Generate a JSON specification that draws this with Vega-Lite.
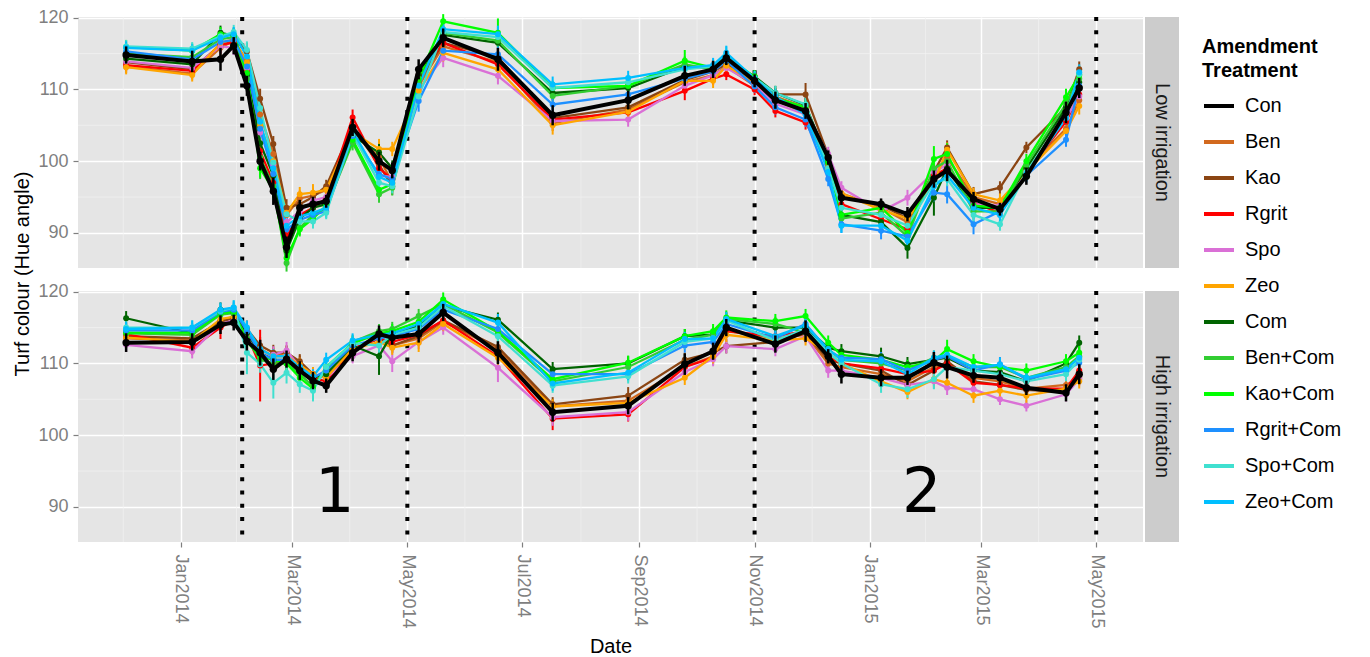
{
"$schema": "https://vega.github.io/schema/vega-lite/v6.json",
"padding": {"left": 12, "top": 8, "right": 5, "bottom": 5},
"bounds": "flush",
"columns": 2,
"spacing": {"row": 23, "column": 2},
"resolve": {"scale": {"color": "shared"}, "legend": {"color": "shared"}},
"config": {
  "font": "Liberation Sans",
  "view": {"stroke": null},
  "axis": {"domain": false, "tickColor": "#7F7F7F", "tickSize": 5, "tickWidth": 1.2, "labelColor": "#7F7F7F", "labelFontSize": 18, "labelPadding": 5, "gridColor": "#FFFFFF", "gridWidth": 1.5, "titleFontWeight": "normal", "titleFontSize": 20, "titleColor": "#000000", "labelFont": "Liberation Sans", "titleFont": "Liberation Sans"},
  "legend": {"orient": "none", "legendX": 1124, "legendY": 20, "padding": 0, "titleFontSize": 20, "titleFontWeight": "bold", "titleColor": "#000000", "titleLineHeight": 24, "titlePadding": 8, "titleFont": "Liberation Sans", "labelFont": "Liberation Sans", "labelFontSize": 20, "labelColor": "#000000", "labelOffset": 9, "symbolType": "stroke", "symbolSize": 900, "symbolStrokeWidth": 4, "rowPadding": 9}
},
"datasets": {
  "minx": [{"d":"2013-12-01T12:00:00Z"},{"d":"2014-01-30T12:00:00Z"},{"d":"2014-03-31T12:00:00Z"},{"d":"2014-05-31T12:00:00Z"},{"d":"2014-08-01T00:00:00Z"},{"d":"2014-10-01T12:00:00Z"},{"d":"2014-12-01T12:00:00Z"},{"d":"2015-01-30T12:00:00Z"},{"d":"2015-03-31T12:00:00Z"}],
  "miny": [{"v":95},{"v":105},{"v":115}],
  "vl": [{"d":"2014-02-02T12:00:00Z"},{"d":"2014-05-01T00:00:00Z"},{"d":"2014-11-01T00:00:00Z"},{"d":"2015-05-01T00:00:00Z"}],
  "lab": [{"d":"2014-03-23T12:00:00Z","v":92.0,"s":"1"},{"d":"2015-01-28T12:00:00Z","v":92.0,"s":"2"}],
  "m": [
{"d":"2013-12-03","i":"Low","t":"Con","v":114.8,"e":1.2},{"d":"2014-01-07","i":"Low","t":"Con","v":113.9,"e":1.5},{"d":"2014-01-22","i":"Low","t":"Con","v":114.2,"e":1.6},{"d":"2014-01-29","i":"Low","t":"Con","v":116.1,"e":1.2},{"d":"2014-02-05","i":"Low","t":"Con","v":110.5,"e":1.4},{"d":"2014-02-12","i":"Low","t":"Con","v":100.0,"e":1.3},{"d":"2014-02-19","i":"Low","t":"Con","v":95.8,"e":1.9},{"d":"2014-02-26","i":"Low","t":"Con","v":88.0,"e":1.5},{"d":"2014-03-05","i":"Low","t":"Con","v":93.5,"e":1.1},{"d":"2014-03-12","i":"Low","t":"Con","v":94.0,"e":1.0},{"d":"2014-03-19","i":"Low","t":"Con","v":94.4,"e":0.9},{"d":"2014-04-02","i":"Low","t":"Con","v":104.7,"e":1.2},{"d":"2014-04-16","i":"Low","t":"Con","v":100.0,"e":1.3},{"d":"2014-04-23","i":"Low","t":"Con","v":98.7,"e":1.1},{"d":"2014-05-07","i":"Low","t":"Con","v":112.8,"e":1.4},{"d":"2014-05-20","i":"Low","t":"Con","v":117.2,"e":1.3},{"d":"2014-06-18","i":"Low","t":"Con","v":114.2,"e":1.6},{"d":"2014-07-17","i":"Low","t":"Con","v":106.4,"e":1.4},{"d":"2014-08-26","i":"Low","t":"Con","v":108.5,"e":1.3},{"d":"2014-09-25","i":"Low","t":"Con","v":111.9,"e":1.4},{"d":"2014-10-10","i":"Low","t":"Con","v":112.8,"e":1.2},{"d":"2014-10-17","i":"Low","t":"Con","v":114.4,"e":1.0},{"d":"2014-11-01","i":"Low","t":"Con","v":111.2,"e":0.9},{"d":"2014-11-12","i":"Low","t":"Con","v":108.5,"e":1.2},{"d":"2014-11-28","i":"Low","t":"Con","v":107.0,"e":1.1},{"d":"2014-12-10","i":"Low","t":"Con","v":100.5,"e":1.0},{"d":"2014-12-17","i":"Low","t":"Con","v":94.9,"e":1.0},{"d":"2015-01-07","i":"Low","t":"Con","v":94.0,"e":0.8},{"d":"2015-01-21","i":"Low","t":"Con","v":92.6,"e":1.0},{"d":"2015-02-04","i":"Low","t":"Con","v":97.5,"e":1.2},{"d":"2015-02-11","i":"Low","t":"Con","v":98.7,"e":1.5},{"d":"2015-02-25","i":"Low","t":"Con","v":94.7,"e":1.0},{"d":"2015-03-11","i":"Low","t":"Con","v":93.3,"e":0.9},{"d":"2015-03-25","i":"Low","t":"Con","v":97.9,"e":1.2},{"d":"2015-04-15","i":"Low","t":"Con","v":106.8,"e":1.5},{"d":"2015-04-22","i":"Low","t":"Con","v":110.2,"e":1.4},
{"d":"2013-12-03","i":"Low","t":"Ben","v":113.2,"e":0.9},{"d":"2014-01-07","i":"Low","t":"Ben","v":112.2,"e":0.8},{"d":"2014-01-22","i":"Low","t":"Ben","v":115.8,"e":1.1},{"d":"2014-01-29","i":"Low","t":"Ben","v":116.8,"e":1.0},{"d":"2014-02-05","i":"Low","t":"Ben","v":114.0,"e":1.4},{"d":"2014-02-12","i":"Low","t":"Ben","v":106.5,"e":1.3},{"d":"2014-02-19","i":"Low","t":"Ben","v":101.0,"e":1.2},{"d":"2014-02-26","i":"Low","t":"Ben","v":92.5,"e":1.0},{"d":"2014-03-05","i":"Low","t":"Ben","v":94.8,"e":1.1},{"d":"2014-03-12","i":"Low","t":"Ben","v":95.2,"e":1.0},{"d":"2014-03-19","i":"Low","t":"Ben","v":96.0,"e":0.8},{"d":"2014-04-02","i":"Low","t":"Ben","v":104.5,"e":1.0},{"d":"2014-04-16","i":"Low","t":"Ben","v":100.5,"e":1.2},{"d":"2014-04-23","i":"Low","t":"Ben","v":97.0,"e":1.0},{"d":"2014-05-07","i":"Low","t":"Ben","v":110.5,"e":1.1},{"d":"2014-05-20","i":"Low","t":"Ben","v":116.0,"e":1.3},{"d":"2014-06-18","i":"Low","t":"Ben","v":113.8,"e":1.2},{"d":"2014-07-17","i":"Low","t":"Ben","v":105.3,"e":1.1},{"d":"2014-08-26","i":"Low","t":"Ben","v":107.2,"e":0.9},{"d":"2014-09-25","i":"Low","t":"Ben","v":111.0,"e":1.0},{"d":"2014-10-10","i":"Low","t":"Ben","v":112.0,"e":0.8},{"d":"2014-10-17","i":"Low","t":"Ben","v":113.2,"e":0.9},{"d":"2014-11-01","i":"Low","t":"Ben","v":110.5,"e":0.8},{"d":"2014-11-12","i":"Low","t":"Ben","v":109.0,"e":1.0},{"d":"2014-11-28","i":"Low","t":"Ben","v":107.5,"e":0.9},{"d":"2014-12-10","i":"Low","t":"Ben","v":99.5,"e":1.0},{"d":"2014-12-17","i":"Low","t":"Ben","v":95.5,"e":0.8},{"d":"2015-01-07","i":"Low","t":"Ben","v":93.5,"e":0.9},{"d":"2015-01-21","i":"Low","t":"Ben","v":91.5,"e":1.0},{"d":"2015-02-04","i":"Low","t":"Ben","v":98.0,"e":1.1},{"d":"2015-02-11","i":"Low","t":"Ben","v":100.5,"e":1.2},{"d":"2015-02-25","i":"Low","t":"Ben","v":95.0,"e":0.9},{"d":"2015-03-11","i":"Low","t":"Ben","v":94.0,"e":0.8},{"d":"2015-03-25","i":"Low","t":"Ben","v":99.0,"e":1.0},{"d":"2015-04-15","i":"Low","t":"Ben","v":104.5,"e":1.2},{"d":"2015-04-22","i":"Low","t":"Ben","v":108.5,"e":1.0},
{"d":"2013-12-03","i":"Low","t":"Kao","v":113.8,"e":1.0},{"d":"2014-01-07","i":"Low","t":"Kao","v":112.8,"e":0.9},{"d":"2014-01-22","i":"Low","t":"Kao","v":116.2,"e":1.0},{"d":"2014-01-29","i":"Low","t":"Kao","v":117.0,"e":1.1},{"d":"2014-02-05","i":"Low","t":"Kao","v":115.3,"e":1.2},{"d":"2014-02-12","i":"Low","t":"Kao","v":108.7,"e":1.4},{"d":"2014-02-19","i":"Low","t":"Kao","v":102.4,"e":1.1},{"d":"2014-02-26","i":"Low","t":"Kao","v":93.5,"e":1.2},{"d":"2014-03-05","i":"Low","t":"Kao","v":94.0,"e":0.9},{"d":"2014-03-12","i":"Low","t":"Kao","v":95.0,"e":1.1},{"d":"2014-03-19","i":"Low","t":"Kao","v":96.5,"e":0.9},{"d":"2014-04-02","i":"Low","t":"Kao","v":104.8,"e":0.9},{"d":"2014-04-16","i":"Low","t":"Kao","v":99.5,"e":1.1},{"d":"2014-04-23","i":"Low","t":"Kao","v":96.5,"e":1.2},{"d":"2014-05-07","i":"Low","t":"Kao","v":111.0,"e":1.0},{"d":"2014-05-20","i":"Low","t":"Kao","v":116.5,"e":1.2},{"d":"2014-06-18","i":"Low","t":"Kao","v":114.5,"e":1.1},{"d":"2014-07-17","i":"Low","t":"Kao","v":106.0,"e":1.0},{"d":"2014-08-26","i":"Low","t":"Kao","v":107.5,"e":1.0},{"d":"2014-09-25","i":"Low","t":"Kao","v":111.3,"e":0.9},{"d":"2014-10-10","i":"Low","t":"Kao","v":112.5,"e":0.9},{"d":"2014-10-17","i":"Low","t":"Kao","v":113.5,"e":0.8},{"d":"2014-11-01","i":"Low","t":"Kao","v":111.0,"e":0.9},{"d":"2014-11-12","i":"Low","t":"Kao","v":109.3,"e":0.9},{"d":"2014-11-28","i":"Low","t":"Kao","v":109.3,"e":1.6},{"d":"2014-12-10","i":"Low","t":"Kao","v":100.8,"e":0.9},{"d":"2014-12-17","i":"Low","t":"Kao","v":95.0,"e":1.0},{"d":"2015-01-07","i":"Low","t":"Kao","v":93.9,"e":0.8},{"d":"2015-01-21","i":"Low","t":"Kao","v":92.0,"e":0.9},{"d":"2015-02-04","i":"Low","t":"Kao","v":98.5,"e":1.0},{"d":"2015-02-11","i":"Low","t":"Kao","v":101.9,"e":1.0},{"d":"2015-02-25","i":"Low","t":"Kao","v":95.4,"e":1.0},{"d":"2015-03-11","i":"Low","t":"Kao","v":96.3,"e":0.9},{"d":"2015-03-25","i":"Low","t":"Kao","v":101.9,"e":0.8},{"d":"2015-04-15","i":"Low","t":"Kao","v":107.5,"e":1.0},{"d":"2015-04-22","i":"Low","t":"Kao","v":112.8,"e":1.1},
{"d":"2013-12-03","i":"Low","t":"Rgrit","v":113.4,"e":0.8},{"d":"2014-01-07","i":"Low","t":"Rgrit","v":112.6,"e":0.9},{"d":"2014-01-22","i":"Low","t":"Rgrit","v":116.3,"e":1.2},{"d":"2014-01-29","i":"Low","t":"Rgrit","v":116.5,"e":0.9},{"d":"2014-02-05","i":"Low","t":"Rgrit","v":112.5,"e":1.3},{"d":"2014-02-12","i":"Low","t":"Rgrit","v":101.4,"e":1.2},{"d":"2014-02-19","i":"Low","t":"Rgrit","v":97.0,"e":1.3},{"d":"2014-02-26","i":"Low","t":"Rgrit","v":89.5,"e":1.1},{"d":"2014-03-05","i":"Low","t":"Rgrit","v":92.5,"e":1.0},{"d":"2014-03-12","i":"Low","t":"Rgrit","v":93.5,"e":0.9},{"d":"2014-03-19","i":"Low","t":"Rgrit","v":94.8,"e":1.0},{"d":"2014-04-02","i":"Low","t":"Rgrit","v":106.1,"e":1.1},{"d":"2014-04-16","i":"Low","t":"Rgrit","v":99.0,"e":1.0},{"d":"2014-04-23","i":"Low","t":"Rgrit","v":97.5,"e":0.9},{"d":"2014-05-07","i":"Low","t":"Rgrit","v":112.0,"e":1.0},{"d":"2014-05-20","i":"Low","t":"Rgrit","v":116.5,"e":1.1},{"d":"2014-06-18","i":"Low","t":"Rgrit","v":113.5,"e":1.0},{"d":"2014-07-17","i":"Low","t":"Rgrit","v":105.8,"e":1.0},{"d":"2014-08-26","i":"Low","t":"Rgrit","v":106.8,"e":1.0},{"d":"2014-09-25","i":"Low","t":"Rgrit","v":109.8,"e":1.3},{"d":"2014-10-10","i":"Low","t":"Rgrit","v":111.5,"e":0.9},{"d":"2014-10-17","i":"Low","t":"Rgrit","v":112.1,"e":0.8},{"d":"2014-11-01","i":"Low","t":"Rgrit","v":110.0,"e":0.8},{"d":"2014-11-12","i":"Low","t":"Rgrit","v":107.0,"e":0.9},{"d":"2014-11-28","i":"Low","t":"Rgrit","v":105.4,"e":1.0},{"d":"2014-12-10","i":"Low","t":"Rgrit","v":99.8,"e":1.1},{"d":"2014-12-17","i":"Low","t":"Rgrit","v":94.0,"e":0.9},{"d":"2015-01-07","i":"Low","t":"Rgrit","v":91.9,"e":1.0},{"d":"2015-01-21","i":"Low","t":"Rgrit","v":90.5,"e":1.0},{"d":"2015-02-04","i":"Low","t":"Rgrit","v":98.0,"e":0.9},{"d":"2015-02-11","i":"Low","t":"Rgrit","v":99.0,"e":1.0},{"d":"2015-02-25","i":"Low","t":"Rgrit","v":94.2,"e":0.8},{"d":"2015-03-11","i":"Low","t":"Rgrit","v":92.8,"e":0.9},{"d":"2015-03-25","i":"Low","t":"Rgrit","v":98.5,"e":0.9},{"d":"2015-04-15","i":"Low","t":"Rgrit","v":105.5,"e":1.0},{"d":"2015-04-22","i":"Low","t":"Rgrit","v":109.3,"e":1.0},
{"d":"2013-12-03","i":"Low","t":"Spo","v":113.9,"e":1.0},{"d":"2014-01-07","i":"Low","t":"Spo","v":113.0,"e":0.9},{"d":"2014-01-22","i":"Low","t":"Spo","v":116.0,"e":1.0},{"d":"2014-01-29","i":"Low","t":"Spo","v":115.8,"e":1.0},{"d":"2014-02-05","i":"Low","t":"Spo","v":113.0,"e":1.2},{"d":"2014-02-12","i":"Low","t":"Spo","v":104.0,"e":1.1},{"d":"2014-02-19","i":"Low","t":"Spo","v":99.5,"e":1.0},{"d":"2014-02-26","i":"Low","t":"Spo","v":91.5,"e":1.1},{"d":"2014-03-05","i":"Low","t":"Spo","v":93.0,"e":1.0},{"d":"2014-03-12","i":"Low","t":"Spo","v":94.5,"e":1.0},{"d":"2014-03-19","i":"Low","t":"Spo","v":95.0,"e":0.9},{"d":"2014-04-02","i":"Low","t":"Spo","v":103.8,"e":1.0},{"d":"2014-04-16","i":"Low","t":"Spo","v":98.0,"e":1.3},{"d":"2014-04-23","i":"Low","t":"Spo","v":97.8,"e":1.1},{"d":"2014-05-07","i":"Low","t":"Spo","v":110.0,"e":1.2},{"d":"2014-05-20","i":"Low","t":"Spo","v":114.4,"e":1.3},{"d":"2014-06-18","i":"Low","t":"Spo","v":111.9,"e":1.2},{"d":"2014-07-17","i":"Low","t":"Spo","v":105.6,"e":1.1},{"d":"2014-08-26","i":"Low","t":"Spo","v":105.8,"e":1.0},{"d":"2014-09-25","i":"Low","t":"Spo","v":110.5,"e":1.0},{"d":"2014-10-10","i":"Low","t":"Spo","v":112.0,"e":0.9},{"d":"2014-10-17","i":"Low","t":"Spo","v":113.0,"e":0.9},{"d":"2014-11-01","i":"Low","t":"Spo","v":110.8,"e":0.9},{"d":"2014-11-12","i":"Low","t":"Spo","v":108.0,"e":1.0},{"d":"2014-11-28","i":"Low","t":"Spo","v":106.5,"e":1.0},{"d":"2014-12-10","i":"Low","t":"Spo","v":101.0,"e":1.0},{"d":"2014-12-17","i":"Low","t":"Spo","v":96.3,"e":0.9},{"d":"2015-01-07","i":"Low","t":"Spo","v":93.0,"e":1.0},{"d":"2015-01-21","i":"Low","t":"Spo","v":94.9,"e":1.1},{"d":"2015-02-04","i":"Low","t":"Spo","v":98.5,"e":0.9},{"d":"2015-02-11","i":"Low","t":"Spo","v":99.5,"e":1.0},{"d":"2015-02-25","i":"Low","t":"Spo","v":94.0,"e":0.9},{"d":"2015-03-11","i":"Low","t":"Spo","v":93.8,"e":0.9},{"d":"2015-03-25","i":"Low","t":"Spo","v":98.5,"e":1.0},{"d":"2015-04-15","i":"Low","t":"Spo","v":106.0,"e":1.1},{"d":"2015-04-22","i":"Low","t":"Spo","v":109.0,"e":1.0},
{"d":"2013-12-03","i":"Low","t":"Zeo","v":113.1,"e":1.0},{"d":"2014-01-07","i":"Low","t":"Zeo","v":112.0,"e":0.9},{"d":"2014-01-22","i":"Low","t":"Zeo","v":116.5,"e":0.9},{"d":"2014-01-29","i":"Low","t":"Zeo","v":117.0,"e":1.0},{"d":"2014-02-05","i":"Low","t":"Zeo","v":113.8,"e":1.2},{"d":"2014-02-12","i":"Low","t":"Zeo","v":105.0,"e":1.2},{"d":"2014-02-19","i":"Low","t":"Zeo","v":100.0,"e":1.1},{"d":"2014-02-26","i":"Low","t":"Zeo","v":92.8,"e":1.0},{"d":"2014-03-05","i":"Low","t":"Zeo","v":95.4,"e":1.0},{"d":"2014-03-12","i":"Low","t":"Zeo","v":95.6,"e":1.2},{"d":"2014-03-19","i":"Low","t":"Zeo","v":96.0,"e":0.9},{"d":"2014-04-02","i":"Low","t":"Zeo","v":104.0,"e":1.0},{"d":"2014-04-16","i":"Low","t":"Zeo","v":101.7,"e":1.4},{"d":"2014-04-23","i":"Low","t":"Zeo","v":101.7,"e":1.0},{"d":"2014-05-07","i":"Low","t":"Zeo","v":109.8,"e":1.1},{"d":"2014-05-20","i":"Low","t":"Zeo","v":115.1,"e":1.2},{"d":"2014-06-18","i":"Low","t":"Zeo","v":112.8,"e":1.3},{"d":"2014-07-17","i":"Low","t":"Zeo","v":105.0,"e":1.3},{"d":"2014-08-26","i":"Low","t":"Zeo","v":106.9,"e":1.1},{"d":"2014-09-25","i":"Low","t":"Zeo","v":111.2,"e":0.9},{"d":"2014-10-10","i":"Low","t":"Zeo","v":111.2,"e":1.0},{"d":"2014-10-17","i":"Low","t":"Zeo","v":113.3,"e":0.9},{"d":"2014-11-01","i":"Low","t":"Zeo","v":111.0,"e":0.8},{"d":"2014-11-12","i":"Low","t":"Zeo","v":108.5,"e":0.9},{"d":"2014-11-28","i":"Low","t":"Zeo","v":106.8,"e":0.9},{"d":"2014-12-10","i":"Low","t":"Zeo","v":99.0,"e":1.0},{"d":"2014-12-17","i":"Low","t":"Zeo","v":95.5,"e":0.9},{"d":"2015-01-07","i":"Low","t":"Zeo","v":93.2,"e":0.9},{"d":"2015-01-21","i":"Low","t":"Zeo","v":92.0,"e":1.0},{"d":"2015-02-04","i":"Low","t":"Zeo","v":97.0,"e":1.0},{"d":"2015-02-11","i":"Low","t":"Zeo","v":101.6,"e":1.0},{"d":"2015-02-25","i":"Low","t":"Zeo","v":95.4,"e":0.9},{"d":"2015-03-11","i":"Low","t":"Zeo","v":94.5,"e":1.0},{"d":"2015-03-25","i":"Low","t":"Zeo","v":98.5,"e":0.9},{"d":"2015-04-15","i":"Low","t":"Zeo","v":104.2,"e":1.2},{"d":"2015-04-22","i":"Low","t":"Zeo","v":107.7,"e":1.2},
{"d":"2013-12-03","i":"Low","t":"Com","v":114.3,"e":0.9},{"d":"2014-01-07","i":"Low","t":"Com","v":113.5,"e":0.9},{"d":"2014-01-22","i":"Low","t":"Com","v":117.9,"e":1.0},{"d":"2014-01-29","i":"Low","t":"Com","v":117.5,"e":1.0},{"d":"2014-02-05","i":"Low","t":"Com","v":112.0,"e":1.3},{"d":"2014-02-12","i":"Low","t":"Com","v":102.5,"e":1.3},{"d":"2014-02-19","i":"Low","t":"Com","v":98.0,"e":1.2},{"d":"2014-02-26","i":"Low","t":"Com","v":87.5,"e":1.1},{"d":"2014-03-05","i":"Low","t":"Com","v":92.0,"e":1.0},{"d":"2014-03-12","i":"Low","t":"Com","v":93.5,"e":1.0},{"d":"2014-03-19","i":"Low","t":"Com","v":94.0,"e":0.9},{"d":"2014-04-02","i":"Low","t":"Com","v":103.5,"e":1.0},{"d":"2014-04-16","i":"Low","t":"Com","v":101.2,"e":1.2},{"d":"2014-04-23","i":"Low","t":"Com","v":99.0,"e":1.1},{"d":"2014-05-07","i":"Low","t":"Com","v":112.0,"e":1.0},{"d":"2014-05-20","i":"Low","t":"Com","v":117.6,"e":1.2},{"d":"2014-06-18","i":"Low","t":"Com","v":116.5,"e":1.0},{"d":"2014-07-17","i":"Low","t":"Com","v":109.5,"e":1.0},{"d":"2014-08-26","i":"Low","t":"Com","v":110.2,"e":1.0},{"d":"2014-09-25","i":"Low","t":"Com","v":113.2,"e":1.3},{"d":"2014-10-10","i":"Low","t":"Com","v":113.0,"e":1.0},{"d":"2014-10-17","i":"Low","t":"Com","v":114.0,"e":0.9},{"d":"2014-11-01","i":"Low","t":"Com","v":111.8,"e":0.9},{"d":"2014-11-12","i":"Low","t":"Com","v":109.5,"e":1.0},{"d":"2014-11-28","i":"Low","t":"Com","v":107.8,"e":1.0},{"d":"2014-12-10","i":"Low","t":"Com","v":100.0,"e":0.9},{"d":"2014-12-17","i":"Low","t":"Com","v":92.5,"e":1.0},{"d":"2015-01-07","i":"Low","t":"Com","v":91.5,"e":1.0},{"d":"2015-01-21","i":"Low","t":"Com","v":87.9,"e":1.5},{"d":"2015-02-04","i":"Low","t":"Com","v":94.9,"e":2.5},{"d":"2015-02-11","i":"Low","t":"Com","v":99.0,"e":1.0},{"d":"2015-02-25","i":"Low","t":"Com","v":93.5,"e":1.0},{"d":"2015-03-11","i":"Low","t":"Com","v":93.5,"e":0.9},{"d":"2015-03-25","i":"Low","t":"Com","v":99.0,"e":1.0},{"d":"2015-04-15","i":"Low","t":"Com","v":107.5,"e":1.1},{"d":"2015-04-22","i":"Low","t":"Com","v":111.0,"e":1.0},
{"d":"2013-12-03","i":"Low","t":"Ben+Com","v":115.0,"e":1.0},{"d":"2014-01-07","i":"Low","t":"Ben+Com","v":114.5,"e":1.0},{"d":"2014-01-22","i":"Low","t":"Ben+Com","v":117.0,"e":1.0},{"d":"2014-01-29","i":"Low","t":"Ben+Com","v":117.3,"e":1.0},{"d":"2014-02-05","i":"Low","t":"Ben+Com","v":111.5,"e":1.4},{"d":"2014-02-12","i":"Low","t":"Ben+Com","v":100.5,"e":3.0},{"d":"2014-02-19","i":"Low","t":"Ben+Com","v":96.5,"e":1.5},{"d":"2014-02-26","i":"Low","t":"Ben+Com","v":85.8,"e":1.2},{"d":"2014-03-05","i":"Low","t":"Ben+Com","v":90.7,"e":1.0},{"d":"2014-03-12","i":"Low","t":"Ben+Com","v":92.5,"e":0.9},{"d":"2014-03-19","i":"Low","t":"Ben+Com","v":93.5,"e":0.9},{"d":"2014-04-02","i":"Low","t":"Ben+Com","v":102.6,"e":1.1},{"d":"2014-04-16","i":"Low","t":"Ben+Com","v":95.4,"e":1.2},{"d":"2014-04-23","i":"Low","t":"Ben+Com","v":96.3,"e":1.1},{"d":"2014-05-07","i":"Low","t":"Ben+Com","v":111.0,"e":1.0},{"d":"2014-05-20","i":"Low","t":"Ben+Com","v":117.9,"e":1.2},{"d":"2014-06-18","i":"Low","t":"Ben+Com","v":116.8,"e":1.1},{"d":"2014-07-17","i":"Low","t":"Ben+Com","v":109.1,"e":1.0},{"d":"2014-08-26","i":"Low","t":"Ben+Com","v":110.5,"e":1.0},{"d":"2014-09-25","i":"Low","t":"Ben+Com","v":113.5,"e":1.1},{"d":"2014-10-10","i":"Low","t":"Ben+Com","v":112.8,"e":1.0},{"d":"2014-10-17","i":"Low","t":"Ben+Com","v":114.2,"e":0.9},{"d":"2014-11-01","i":"Low","t":"Ben+Com","v":111.5,"e":0.9},{"d":"2014-11-12","i":"Low","t":"Ben+Com","v":108.8,"e":1.0},{"d":"2014-11-28","i":"Low","t":"Ben+Com","v":107.0,"e":1.0},{"d":"2014-12-10","i":"Low","t":"Ben+Com","v":100.2,"e":0.9},{"d":"2014-12-17","i":"Low","t":"Ben+Com","v":92.0,"e":1.0},{"d":"2015-01-07","i":"Low","t":"Ben+Com","v":92.8,"e":1.0},{"d":"2015-01-21","i":"Low","t":"Ben+Com","v":89.5,"e":1.0},{"d":"2015-02-04","i":"Low","t":"Ben+Com","v":99.0,"e":1.3},{"d":"2015-02-11","i":"Low","t":"Ben+Com","v":100.0,"e":1.2},{"d":"2015-02-25","i":"Low","t":"Ben+Com","v":93.0,"e":1.0},{"d":"2015-03-11","i":"Low","t":"Ben+Com","v":93.0,"e":0.9},{"d":"2015-03-25","i":"Low","t":"Ben+Com","v":99.5,"e":1.0},{"d":"2015-04-15","i":"Low","t":"Ben+Com","v":108.0,"e":1.1},{"d":"2015-04-22","i":"Low","t":"Ben+Com","v":111.5,"e":1.1},
{"d":"2013-12-03","i":"Low","t":"Kao+Com","v":115.9,"e":1.0},{"d":"2014-01-07","i":"Low","t":"Kao+Com","v":115.4,"e":1.0},{"d":"2014-01-22","i":"Low","t":"Kao+Com","v":117.7,"e":1.0},{"d":"2014-01-29","i":"Low","t":"Kao+Com","v":117.6,"e":1.0},{"d":"2014-02-05","i":"Low","t":"Kao+Com","v":112.3,"e":1.3},{"d":"2014-02-12","i":"Low","t":"Kao+Com","v":99.0,"e":1.3},{"d":"2014-02-19","i":"Low","t":"Kao+Com","v":96.0,"e":1.2},{"d":"2014-02-26","i":"Low","t":"Kao+Com","v":86.5,"e":1.2},{"d":"2014-03-05","i":"Low","t":"Kao+Com","v":90.5,"e":1.0},{"d":"2014-03-12","i":"Low","t":"Kao+Com","v":92.0,"e":1.0},{"d":"2014-03-19","i":"Low","t":"Kao+Com","v":93.8,"e":0.9},{"d":"2014-04-02","i":"Low","t":"Kao+Com","v":103.0,"e":1.0},{"d":"2014-04-16","i":"Low","t":"Kao+Com","v":96.0,"e":1.1},{"d":"2014-04-23","i":"Low","t":"Kao+Com","v":96.8,"e":1.1},{"d":"2014-05-07","i":"Low","t":"Kao+Com","v":111.5,"e":1.1},{"d":"2014-05-20","i":"Low","t":"Kao+Com","v":119.5,"e":1.0},{"d":"2014-06-18","i":"Low","t":"Kao+Com","v":117.9,"e":2.0},{"d":"2014-07-17","i":"Low","t":"Kao+Com","v":110.2,"e":1.0},{"d":"2014-08-26","i":"Low","t":"Kao+Com","v":110.5,"e":1.0},{"d":"2014-09-25","i":"Low","t":"Kao+Com","v":114.0,"e":1.5},{"d":"2014-10-10","i":"Low","t":"Kao+Com","v":113.0,"e":1.0},{"d":"2014-10-17","i":"Low","t":"Kao+Com","v":114.5,"e":1.0},{"d":"2014-11-01","i":"Low","t":"Kao+Com","v":111.8,"e":0.9},{"d":"2014-11-12","i":"Low","t":"Kao+Com","v":108.8,"e":1.0},{"d":"2014-11-28","i":"Low","t":"Kao+Com","v":107.5,"e":1.0},{"d":"2014-12-10","i":"Low","t":"Kao+Com","v":99.8,"e":1.0},{"d":"2014-12-17","i":"Low","t":"Kao+Com","v":92.5,"e":1.0},{"d":"2015-01-07","i":"Low","t":"Kao+Com","v":93.5,"e":1.0},{"d":"2015-01-21","i":"Low","t":"Kao+Com","v":90.0,"e":1.0},{"d":"2015-02-04","i":"Low","t":"Kao+Com","v":100.3,"e":1.8},{"d":"2015-02-11","i":"Low","t":"Kao+Com","v":101.0,"e":1.5},{"d":"2015-02-25","i":"Low","t":"Kao+Com","v":93.8,"e":1.0},{"d":"2015-03-11","i":"Low","t":"Kao+Com","v":93.5,"e":0.9},{"d":"2015-03-25","i":"Low","t":"Kao+Com","v":100.0,"e":1.0},{"d":"2015-04-15","i":"Low","t":"Kao+Com","v":108.9,"e":1.2},{"d":"2015-04-22","i":"Low","t":"Kao+Com","v":112.0,"e":1.2},
{"d":"2013-12-03","i":"Low","t":"Rgrit+Com","v":115.3,"e":1.0},{"d":"2014-01-07","i":"Low","t":"Rgrit+Com","v":114.2,"e":1.0},{"d":"2014-01-22","i":"Low","t":"Rgrit+Com","v":116.6,"e":1.0},{"d":"2014-01-29","i":"Low","t":"Rgrit+Com","v":116.9,"e":1.0},{"d":"2014-02-05","i":"Low","t":"Rgrit+Com","v":113.2,"e":1.3},{"d":"2014-02-12","i":"Low","t":"Rgrit+Com","v":104.5,"e":1.2},{"d":"2014-02-19","i":"Low","t":"Rgrit+Com","v":98.2,"e":1.2},{"d":"2014-02-26","i":"Low","t":"Rgrit+Com","v":90.5,"e":1.1},{"d":"2014-03-05","i":"Low","t":"Rgrit+Com","v":91.8,"e":1.0},{"d":"2014-03-12","i":"Low","t":"Rgrit+Com","v":92.5,"e":1.0},{"d":"2014-03-19","i":"Low","t":"Rgrit+Com","v":93.0,"e":0.9},{"d":"2014-04-02","i":"Low","t":"Rgrit+Com","v":103.5,"e":1.0},{"d":"2014-04-16","i":"Low","t":"Rgrit+Com","v":98.2,"e":1.1},{"d":"2014-04-23","i":"Low","t":"Rgrit+Com","v":97.5,"e":1.1},{"d":"2014-05-07","i":"Low","t":"Rgrit+Com","v":108.4,"e":1.5},{"d":"2014-05-20","i":"Low","t":"Rgrit+Com","v":115.4,"e":1.0},{"d":"2014-06-18","i":"Low","t":"Rgrit+Com","v":114.9,"e":1.1},{"d":"2014-07-17","i":"Low","t":"Rgrit+Com","v":107.9,"e":1.0},{"d":"2014-08-26","i":"Low","t":"Rgrit+Com","v":109.3,"e":1.0},{"d":"2014-09-25","i":"Low","t":"Rgrit+Com","v":111.5,"e":1.0},{"d":"2014-10-10","i":"Low","t":"Rgrit+Com","v":112.5,"e":1.0},{"d":"2014-10-17","i":"Low","t":"Rgrit+Com","v":114.0,"e":1.2},{"d":"2014-11-01","i":"Low","t":"Rgrit+Com","v":110.4,"e":0.9},{"d":"2014-11-12","i":"Low","t":"Rgrit+Com","v":107.5,"e":1.0},{"d":"2014-11-28","i":"Low","t":"Rgrit+Com","v":105.8,"e":1.0},{"d":"2014-12-10","i":"Low","t":"Rgrit+Com","v":97.5,"e":1.0},{"d":"2014-12-17","i":"Low","t":"Rgrit+Com","v":91.2,"e":1.2},{"d":"2015-01-07","i":"Low","t":"Rgrit+Com","v":90.3,"e":1.2},{"d":"2015-01-21","i":"Low","t":"Rgrit+Com","v":89.5,"e":1.0},{"d":"2015-02-04","i":"Low","t":"Rgrit+Com","v":95.6,"e":1.2},{"d":"2015-02-11","i":"Low","t":"Rgrit+Com","v":95.4,"e":1.3},{"d":"2015-02-25","i":"Low","t":"Rgrit+Com","v":91.2,"e":1.4},{"d":"2015-03-11","i":"Low","t":"Rgrit+Com","v":93.0,"e":1.0},{"d":"2015-03-25","i":"Low","t":"Rgrit+Com","v":98.0,"e":1.0},{"d":"2015-04-15","i":"Low","t":"Rgrit+Com","v":103.0,"e":1.0},{"d":"2015-04-22","i":"Low","t":"Rgrit+Com","v":110.5,"e":1.2},
{"d":"2013-12-03","i":"Low","t":"Spo+Com","v":116.0,"e":0.9},{"d":"2014-01-07","i":"Low","t":"Spo+Com","v":115.7,"e":0.9},{"d":"2014-01-22","i":"Low","t":"Spo+Com","v":117.4,"e":1.0},{"d":"2014-01-29","i":"Low","t":"Spo+Com","v":118.0,"e":1.0},{"d":"2014-02-05","i":"Low","t":"Spo+Com","v":115.5,"e":1.2},{"d":"2014-02-12","i":"Low","t":"Spo+Com","v":107.4,"e":1.3},{"d":"2014-02-19","i":"Low","t":"Spo+Com","v":99.8,"e":1.2},{"d":"2014-02-26","i":"Low","t":"Spo+Com","v":92.6,"e":1.1},{"d":"2014-03-05","i":"Low","t":"Spo+Com","v":91.6,"e":1.0},{"d":"2014-03-12","i":"Low","t":"Spo+Com","v":91.6,"e":1.0},{"d":"2014-03-19","i":"Low","t":"Spo+Com","v":92.8,"e":0.9},{"d":"2014-04-02","i":"Low","t":"Spo+Com","v":103.8,"e":1.0},{"d":"2014-04-16","i":"Low","t":"Spo+Com","v":97.0,"e":1.1},{"d":"2014-04-23","i":"Low","t":"Spo+Com","v":96.5,"e":1.0},{"d":"2014-05-07","i":"Low","t":"Spo+Com","v":109.0,"e":1.1},{"d":"2014-05-20","i":"Low","t":"Spo+Com","v":118.0,"e":1.1},{"d":"2014-06-18","i":"Low","t":"Spo+Com","v":117.3,"e":1.2},{"d":"2014-07-17","i":"Low","t":"Spo+Com","v":110.2,"e":1.0},{"d":"2014-08-26","i":"Low","t":"Spo+Com","v":111.0,"e":1.0},{"d":"2014-09-25","i":"Low","t":"Spo+Com","v":112.8,"e":1.0},{"d":"2014-10-10","i":"Low","t":"Spo+Com","v":113.2,"e":1.0},{"d":"2014-10-17","i":"Low","t":"Spo+Com","v":114.8,"e":1.2},{"d":"2014-11-01","i":"Low","t":"Spo+Com","v":111.6,"e":1.0},{"d":"2014-11-12","i":"Low","t":"Spo+Com","v":109.5,"e":1.0},{"d":"2014-11-28","i":"Low","t":"Spo+Com","v":107.9,"e":1.0},{"d":"2014-12-10","i":"Low","t":"Spo+Com","v":99.0,"e":1.0},{"d":"2014-12-17","i":"Low","t":"Spo+Com","v":93.5,"e":1.0},{"d":"2015-01-07","i":"Low","t":"Spo+Com","v":92.5,"e":1.0},{"d":"2015-01-21","i":"Low","t":"Spo+Com","v":91.0,"e":1.0},{"d":"2015-02-04","i":"Low","t":"Spo+Com","v":97.0,"e":1.0},{"d":"2015-02-11","i":"Low","t":"Spo+Com","v":97.5,"e":1.0},{"d":"2015-02-25","i":"Low","t":"Spo+Com","v":92.5,"e":1.0},{"d":"2015-03-11","i":"Low","t":"Spo+Com","v":91.2,"e":0.9},{"d":"2015-03-25","i":"Low","t":"Spo+Com","v":98.5,"e":1.0},{"d":"2015-04-15","i":"Low","t":"Spo+Com","v":106.5,"e":1.0},{"d":"2015-04-22","i":"Low","t":"Spo+Com","v":112.1,"e":1.1},
{"d":"2013-12-03","i":"Low","t":"Zeo+Com","v":115.8,"e":0.9},{"d":"2014-01-07","i":"Low","t":"Zeo+Com","v":115.4,"e":0.9},{"d":"2014-01-22","i":"Low","t":"Zeo+Com","v":117.2,"e":1.0},{"d":"2014-01-29","i":"Low","t":"Zeo+Com","v":117.7,"e":1.0},{"d":"2014-02-05","i":"Low","t":"Zeo+Com","v":114.6,"e":1.2},{"d":"2014-02-12","i":"Low","t":"Zeo+Com","v":105.5,"e":1.3},{"d":"2014-02-19","i":"Low","t":"Zeo+Com","v":99.0,"e":1.2},{"d":"2014-02-26","i":"Low","t":"Zeo+Com","v":91.0,"e":1.1},{"d":"2014-03-05","i":"Low","t":"Zeo+Com","v":92.3,"e":1.0},{"d":"2014-03-12","i":"Low","t":"Zeo+Com","v":92.8,"e":1.0},{"d":"2014-03-19","i":"Low","t":"Zeo+Com","v":93.5,"e":1.0},{"d":"2014-04-02","i":"Low","t":"Zeo+Com","v":104.2,"e":1.0},{"d":"2014-04-16","i":"Low","t":"Zeo+Com","v":97.8,"e":1.1},{"d":"2014-04-23","i":"Low","t":"Zeo+Com","v":97.0,"e":1.0},{"d":"2014-05-07","i":"Low","t":"Zeo+Com","v":110.5,"e":1.0},{"d":"2014-05-20","i":"Low","t":"Zeo+Com","v":118.4,"e":1.1},{"d":"2014-06-18","i":"Low","t":"Zeo+Com","v":117.7,"e":1.2},{"d":"2014-07-17","i":"Low","t":"Zeo+Com","v":110.7,"e":1.1},{"d":"2014-08-26","i":"Low","t":"Zeo+Com","v":111.6,"e":1.0},{"d":"2014-09-25","i":"Low","t":"Zeo+Com","v":113.0,"e":1.0},{"d":"2014-10-10","i":"Low","t":"Zeo+Com","v":113.4,"e":1.0},{"d":"2014-10-17","i":"Low","t":"Zeo+Com","v":115.1,"e":1.0},{"d":"2014-11-01","i":"Low","t":"Zeo+Com","v":111.5,"e":1.0},{"d":"2014-11-12","i":"Low","t":"Zeo+Com","v":109.0,"e":1.0},{"d":"2014-11-28","i":"Low","t":"Zeo+Com","v":106.5,"e":1.0},{"d":"2014-12-10","i":"Low","t":"Zeo+Com","v":98.5,"e":1.0},{"d":"2014-12-17","i":"Low","t":"Zeo+Com","v":91.0,"e":1.0},{"d":"2015-01-07","i":"Low","t":"Zeo+Com","v":91.0,"e":1.0},{"d":"2015-01-21","i":"Low","t":"Zeo+Com","v":88.9,"e":1.0},{"d":"2015-02-04","i":"Low","t":"Zeo+Com","v":96.5,"e":1.0},{"d":"2015-02-11","i":"Low","t":"Zeo+Com","v":98.0,"e":1.0},{"d":"2015-02-25","i":"Low","t":"Zeo+Com","v":93.5,"e":1.0},{"d":"2015-03-11","i":"Low","t":"Zeo+Com","v":92.5,"e":0.9},{"d":"2015-03-25","i":"Low","t":"Zeo+Com","v":98.2,"e":1.0},{"d":"2015-04-15","i":"Low","t":"Zeo+Com","v":106.0,"e":1.0},{"d":"2015-04-22","i":"Low","t":"Zeo+Com","v":112.4,"e":1.1},
{"d":"2013-12-03","i":"High","t":"Con","v":112.9,"e":1.3},{"d":"2014-01-07","i":"High","t":"Con","v":113.0,"e":1.2},{"d":"2014-01-22","i":"High","t":"Con","v":115.4,"e":1.3},{"d":"2014-01-29","i":"High","t":"Con","v":115.7,"e":1.1},{"d":"2014-02-05","i":"High","t":"Con","v":113.1,"e":1.3},{"d":"2014-02-12","i":"High","t":"Con","v":111.5,"e":1.8},{"d":"2014-02-19","i":"High","t":"Con","v":109.2,"e":1.5},{"d":"2014-02-26","i":"High","t":"Con","v":110.6,"e":1.2},{"d":"2014-03-05","i":"High","t":"Con","v":109.0,"e":1.3},{"d":"2014-03-12","i":"High","t":"Con","v":107.6,"e":1.2},{"d":"2014-03-19","i":"High","t":"Con","v":106.9,"e":1.0},{"d":"2014-04-02","i":"High","t":"Con","v":111.5,"e":1.2},{"d":"2014-04-16","i":"High","t":"Con","v":114.1,"e":1.2},{"d":"2014-04-23","i":"High","t":"Con","v":113.6,"e":1.0},{"d":"2014-05-07","i":"High","t":"Con","v":114.1,"e":1.2},{"d":"2014-05-20","i":"High","t":"Con","v":117.1,"e":1.2},{"d":"2014-06-18","i":"High","t":"Con","v":111.5,"e":1.6},{"d":"2014-07-17","i":"High","t":"Con","v":103.2,"e":1.3},{"d":"2014-08-26","i":"High","t":"Con","v":104.1,"e":1.2},{"d":"2014-09-25","i":"High","t":"Con","v":109.9,"e":1.5},{"d":"2014-10-10","i":"High","t":"Con","v":111.7,"e":1.2},{"d":"2014-10-17","i":"High","t":"Con","v":115.0,"e":1.2},{"d":"2014-11-12","i":"High","t":"Con","v":112.7,"e":1.2},{"d":"2014-11-28","i":"High","t":"Con","v":114.5,"e":1.5},{"d":"2014-12-10","i":"High","t":"Con","v":111.0,"e":1.0},{"d":"2014-12-17","i":"High","t":"Con","v":108.5,"e":1.3},{"d":"2015-01-07","i":"High","t":"Con","v":108.0,"e":1.2},{"d":"2015-01-21","i":"High","t":"Con","v":108.0,"e":1.0},{"d":"2015-02-04","i":"High","t":"Con","v":110.1,"e":1.5},{"d":"2015-02-11","i":"High","t":"Con","v":109.5,"e":1.6},{"d":"2015-02-25","i":"High","t":"Con","v":108.3,"e":1.0},{"d":"2015-03-11","i":"High","t":"Con","v":108.0,"e":1.0},{"d":"2015-03-25","i":"High","t":"Con","v":106.6,"e":1.0},{"d":"2015-04-15","i":"High","t":"Con","v":105.9,"e":1.2},{"d":"2015-04-22","i":"High","t":"Con","v":108.5,"e":1.4},
{"d":"2013-12-03","i":"High","t":"Ben","v":113.5,"e":1.0},{"d":"2014-01-07","i":"High","t":"Ben","v":113.2,"e":0.9},{"d":"2014-01-22","i":"High","t":"Ben","v":116.0,"e":1.0},{"d":"2014-01-29","i":"High","t":"Ben","v":116.5,"e":1.0},{"d":"2014-02-05","i":"High","t":"Ben","v":114.8,"e":1.2},{"d":"2014-02-12","i":"High","t":"Ben","v":112.0,"e":1.3},{"d":"2014-02-19","i":"High","t":"Ben","v":111.0,"e":1.2},{"d":"2014-02-26","i":"High","t":"Ben","v":111.5,"e":1.0},{"d":"2014-03-05","i":"High","t":"Ben","v":110.0,"e":1.1},{"d":"2014-03-12","i":"High","t":"Ben","v":108.5,"e":1.0},{"d":"2014-03-19","i":"High","t":"Ben","v":108.0,"e":0.9},{"d":"2014-04-02","i":"High","t":"Ben","v":112.0,"e":1.0},{"d":"2014-04-16","i":"High","t":"Ben","v":113.5,"e":1.0},{"d":"2014-04-23","i":"High","t":"Ben","v":112.5,"e":1.0},{"d":"2014-05-07","i":"High","t":"Ben","v":113.5,"e":1.0},{"d":"2014-05-20","i":"High","t":"Ben","v":115.8,"e":1.1},{"d":"2014-06-18","i":"High","t":"Ben","v":112.0,"e":1.1},{"d":"2014-07-17","i":"High","t":"Ben","v":104.0,"e":1.0},{"d":"2014-08-26","i":"High","t":"Ben","v":104.8,"e":1.0},{"d":"2014-09-25","i":"High","t":"Ben","v":109.5,"e":1.0},{"d":"2014-10-10","i":"High","t":"Ben","v":111.0,"e":0.9},{"d":"2014-10-17","i":"High","t":"Ben","v":114.5,"e":0.9},{"d":"2014-11-12","i":"High","t":"Ben","v":113.5,"e":1.0},{"d":"2014-11-28","i":"High","t":"Ben","v":114.0,"e":1.0},{"d":"2014-12-10","i":"High","t":"Ben","v":110.0,"e":1.0},{"d":"2014-12-17","i":"High","t":"Ben","v":109.5,"e":1.0},{"d":"2015-01-07","i":"High","t":"Ben","v":108.5,"e":0.9},{"d":"2015-01-21","i":"High","t":"Ben","v":107.5,"e":1.0},{"d":"2015-02-04","i":"High","t":"Ben","v":109.5,"e":1.0},{"d":"2015-02-11","i":"High","t":"Ben","v":110.0,"e":1.0},{"d":"2015-02-25","i":"High","t":"Ben","v":108.0,"e":0.9},{"d":"2015-03-11","i":"High","t":"Ben","v":107.5,"e":0.9},{"d":"2015-03-25","i":"High","t":"Ben","v":106.5,"e":1.0},{"d":"2015-04-15","i":"High","t":"Ben","v":107.0,"e":1.0},{"d":"2015-04-22","i":"High","t":"Ben","v":108.0,"e":1.0},
{"d":"2013-12-03","i":"High","t":"Kao","v":113.8,"e":1.0},{"d":"2014-01-07","i":"High","t":"Kao","v":113.5,"e":1.0},{"d":"2014-01-22","i":"High","t":"Kao","v":115.8,"e":1.0},{"d":"2014-01-29","i":"High","t":"Kao","v":116.3,"e":1.0},{"d":"2014-02-05","i":"High","t":"Kao","v":114.8,"e":1.1},{"d":"2014-02-12","i":"High","t":"Kao","v":112.5,"e":1.2},{"d":"2014-02-19","i":"High","t":"Kao","v":111.5,"e":1.1},{"d":"2014-02-26","i":"High","t":"Kao","v":111.5,"e":1.0},{"d":"2014-03-05","i":"High","t":"Kao","v":110.3,"e":1.0},{"d":"2014-03-12","i":"High","t":"Kao","v":108.5,"e":1.0},{"d":"2014-03-19","i":"High","t":"Kao","v":108.0,"e":1.0},{"d":"2014-04-02","i":"High","t":"Kao","v":112.0,"e":1.0},{"d":"2014-04-16","i":"High","t":"Kao","v":113.5,"e":1.0},{"d":"2014-04-23","i":"High","t":"Kao","v":112.5,"e":1.0},{"d":"2014-05-07","i":"High","t":"Kao","v":113.8,"e":1.0},{"d":"2014-05-20","i":"High","t":"Kao","v":116.0,"e":1.0},{"d":"2014-06-18","i":"High","t":"Kao","v":112.3,"e":1.1},{"d":"2014-07-17","i":"High","t":"Kao","v":104.3,"e":1.0},{"d":"2014-08-26","i":"High","t":"Kao","v":105.5,"e":1.2},{"d":"2014-09-25","i":"High","t":"Kao","v":110.5,"e":1.0},{"d":"2014-10-10","i":"High","t":"Kao","v":111.5,"e":1.0},{"d":"2014-10-17","i":"High","t":"Kao","v":112.4,"e":1.0},{"d":"2014-11-12","i":"High","t":"Kao","v":113.0,"e":1.0},{"d":"2014-11-28","i":"High","t":"Kao","v":114.2,"e":1.0},{"d":"2014-12-10","i":"High","t":"Kao","v":110.5,"e":1.0},{"d":"2014-12-17","i":"High","t":"Kao","v":110.0,"e":1.0},{"d":"2015-01-07","i":"High","t":"Kao","v":109.0,"e":1.0},{"d":"2015-01-21","i":"High","t":"Kao","v":107.0,"e":1.0},{"d":"2015-02-04","i":"High","t":"Kao","v":109.0,"e":1.0},{"d":"2015-02-11","i":"High","t":"Kao","v":110.3,"e":1.0},{"d":"2015-02-25","i":"High","t":"Kao","v":107.5,"e":1.0},{"d":"2015-03-11","i":"High","t":"Kao","v":107.0,"e":1.0},{"d":"2015-03-25","i":"High","t":"Kao","v":106.3,"e":1.0},{"d":"2015-04-15","i":"High","t":"Kao","v":106.0,"e":1.0},{"d":"2015-04-22","i":"High","t":"Kao","v":108.8,"e":1.0},
{"d":"2013-12-03","i":"High","t":"Rgrit","v":114.1,"e":1.0},{"d":"2014-01-07","i":"High","t":"Rgrit","v":112.2,"e":1.0},{"d":"2014-01-22","i":"High","t":"Rgrit","v":115.0,"e":1.6},{"d":"2014-01-29","i":"High","t":"Rgrit","v":116.0,"e":1.0},{"d":"2014-02-05","i":"High","t":"Rgrit","v":114.0,"e":1.2},{"d":"2014-02-12","i":"High","t":"Rgrit","v":109.7,"e":5.0},{"d":"2014-02-19","i":"High","t":"Rgrit","v":110.0,"e":1.2},{"d":"2014-02-26","i":"High","t":"Rgrit","v":110.5,"e":1.0},{"d":"2014-03-05","i":"High","t":"Rgrit","v":109.5,"e":1.0},{"d":"2014-03-12","i":"High","t":"Rgrit","v":108.0,"e":1.0},{"d":"2014-03-19","i":"High","t":"Rgrit","v":107.5,"e":1.2},{"d":"2014-04-02","i":"High","t":"Rgrit","v":112.0,"e":1.0},{"d":"2014-04-16","i":"High","t":"Rgrit","v":113.5,"e":1.0},{"d":"2014-04-23","i":"High","t":"Rgrit","v":113.0,"e":1.0},{"d":"2014-05-07","i":"High","t":"Rgrit","v":114.0,"e":1.0},{"d":"2014-05-20","i":"High","t":"Rgrit","v":116.0,"e":1.0},{"d":"2014-06-18","i":"High","t":"Rgrit","v":111.0,"e":1.0},{"d":"2014-07-17","i":"High","t":"Rgrit","v":102.3,"e":1.6},{"d":"2014-08-26","i":"High","t":"Rgrit","v":102.9,"e":1.0},{"d":"2014-09-25","i":"High","t":"Rgrit","v":109.5,"e":1.0},{"d":"2014-10-10","i":"High","t":"Rgrit","v":110.8,"e":1.0},{"d":"2014-10-17","i":"High","t":"Rgrit","v":114.5,"e":1.0},{"d":"2014-11-12","i":"High","t":"Rgrit","v":113.8,"e":1.0},{"d":"2014-11-28","i":"High","t":"Rgrit","v":114.5,"e":1.0},{"d":"2014-12-10","i":"High","t":"Rgrit","v":111.0,"e":1.0},{"d":"2014-12-17","i":"High","t":"Rgrit","v":110.0,"e":1.0},{"d":"2015-01-07","i":"High","t":"Rgrit","v":109.3,"e":1.0},{"d":"2015-01-21","i":"High","t":"Rgrit","v":108.5,"e":1.0},{"d":"2015-02-04","i":"High","t":"Rgrit","v":109.0,"e":1.0},{"d":"2015-02-11","i":"High","t":"Rgrit","v":110.0,"e":1.0},{"d":"2015-02-25","i":"High","t":"Rgrit","v":107.3,"e":1.0},{"d":"2015-03-11","i":"High","t":"Rgrit","v":107.0,"e":1.0},{"d":"2015-03-25","i":"High","t":"Rgrit","v":106.5,"e":1.0},{"d":"2015-04-15","i":"High","t":"Rgrit","v":106.5,"e":1.0},{"d":"2015-04-22","i":"High","t":"Rgrit","v":109.0,"e":1.0},
{"d":"2013-12-03","i":"High","t":"Spo","v":112.6,"e":1.0},{"d":"2014-01-07","i":"High","t":"Spo","v":111.7,"e":1.0},{"d":"2014-01-22","i":"High","t":"Spo","v":115.5,"e":1.0},{"d":"2014-01-29","i":"High","t":"Spo","v":116.0,"e":1.0},{"d":"2014-02-05","i":"High","t":"Spo","v":114.0,"e":1.2},{"d":"2014-02-12","i":"High","t":"Spo","v":111.0,"e":1.2},{"d":"2014-02-19","i":"High","t":"Spo","v":111.2,"e":1.2},{"d":"2014-02-26","i":"High","t":"Spo","v":111.8,"e":1.2},{"d":"2014-03-05","i":"High","t":"Spo","v":109.5,"e":1.0},{"d":"2014-03-12","i":"High","t":"Spo","v":108.3,"e":1.0},{"d":"2014-03-19","i":"High","t":"Spo","v":108.0,"e":1.0},{"d":"2014-04-02","i":"High","t":"Spo","v":111.0,"e":1.0},{"d":"2014-04-16","i":"High","t":"Spo","v":112.5,"e":1.0},{"d":"2014-04-23","i":"High","t":"Spo","v":110.3,"e":1.5},{"d":"2014-05-07","i":"High","t":"Spo","v":113.0,"e":1.0},{"d":"2014-05-20","i":"High","t":"Spo","v":115.0,"e":1.0},{"d":"2014-06-18","i":"High","t":"Spo","v":109.4,"e":2.0},{"d":"2014-07-17","i":"High","t":"Spo","v":102.5,"e":1.2},{"d":"2014-08-26","i":"High","t":"Spo","v":103.2,"e":1.2},{"d":"2014-09-25","i":"High","t":"Spo","v":108.8,"e":1.0},{"d":"2014-10-10","i":"High","t":"Spo","v":110.6,"e":1.0},{"d":"2014-10-17","i":"High","t":"Spo","v":112.4,"e":1.0},{"d":"2014-11-12","i":"High","t":"Spo","v":112.0,"e":1.0},{"d":"2014-11-28","i":"High","t":"Spo","v":113.8,"e":1.0},{"d":"2014-12-10","i":"High","t":"Spo","v":109.0,"e":1.0},{"d":"2014-12-17","i":"High","t":"Spo","v":109.0,"e":1.0},{"d":"2015-01-07","i":"High","t":"Spo","v":108.0,"e":1.0},{"d":"2015-01-21","i":"High","t":"Spo","v":107.0,"e":1.0},{"d":"2015-02-04","i":"High","t":"Spo","v":107.5,"e":1.0},{"d":"2015-02-11","i":"High","t":"Spo","v":106.6,"e":1.0},{"d":"2015-02-25","i":"High","t":"Spo","v":106.4,"e":1.0},{"d":"2015-03-11","i":"High","t":"Spo","v":105.0,"e":0.8},{"d":"2015-03-25","i":"High","t":"Spo","v":104.1,"e":0.8},{"d":"2015-04-15","i":"High","t":"Spo","v":105.7,"e":1.0},{"d":"2015-04-22","i":"High","t":"Spo","v":107.8,"e":1.0},
{"d":"2013-12-03","i":"High","t":"Zeo","v":113.6,"e":1.0},{"d":"2014-01-07","i":"High","t":"Zeo","v":113.0,"e":1.0},{"d":"2014-01-22","i":"High","t":"Zeo","v":116.2,"e":1.0},{"d":"2014-01-29","i":"High","t":"Zeo","v":116.5,"e":1.0},{"d":"2014-02-05","i":"High","t":"Zeo","v":114.5,"e":1.0},{"d":"2014-02-12","i":"High","t":"Zeo","v":112.0,"e":1.0},{"d":"2014-02-19","i":"High","t":"Zeo","v":111.0,"e":1.0},{"d":"2014-02-26","i":"High","t":"Zeo","v":111.0,"e":1.0},{"d":"2014-03-05","i":"High","t":"Zeo","v":109.8,"e":1.0},{"d":"2014-03-12","i":"High","t":"Zeo","v":108.5,"e":1.0},{"d":"2014-03-19","i":"High","t":"Zeo","v":108.0,"e":1.0},{"d":"2014-04-02","i":"High","t":"Zeo","v":112.0,"e":1.0},{"d":"2014-04-16","i":"High","t":"Zeo","v":113.0,"e":1.0},{"d":"2014-04-23","i":"High","t":"Zeo","v":112.2,"e":1.0},{"d":"2014-05-07","i":"High","t":"Zeo","v":112.9,"e":1.3},{"d":"2014-05-20","i":"High","t":"Zeo","v":115.5,"e":1.0},{"d":"2014-06-18","i":"High","t":"Zeo","v":110.8,"e":1.0},{"d":"2014-07-17","i":"High","t":"Zeo","v":104.0,"e":1.0},{"d":"2014-08-26","i":"High","t":"Zeo","v":104.5,"e":1.0},{"d":"2014-09-25","i":"High","t":"Zeo","v":108.0,"e":1.0},{"d":"2014-10-10","i":"High","t":"Zeo","v":111.0,"e":1.0},{"d":"2014-10-17","i":"High","t":"Zeo","v":114.0,"e":1.0},{"d":"2014-11-12","i":"High","t":"Zeo","v":113.2,"e":1.0},{"d":"2014-11-28","i":"High","t":"Zeo","v":113.5,"e":1.0},{"d":"2014-12-10","i":"High","t":"Zeo","v":111.5,"e":1.0},{"d":"2014-12-17","i":"High","t":"Zeo","v":110.0,"e":1.0},{"d":"2015-01-07","i":"High","t":"Zeo","v":107.5,"e":1.0},{"d":"2015-01-21","i":"High","t":"Zeo","v":106.0,"e":1.0},{"d":"2015-02-04","i":"High","t":"Zeo","v":107.8,"e":1.0},{"d":"2015-02-11","i":"High","t":"Zeo","v":107.3,"e":1.0},{"d":"2015-02-25","i":"High","t":"Zeo","v":105.5,"e":1.0},{"d":"2015-03-11","i":"High","t":"Zeo","v":106.2,"e":1.0},{"d":"2015-03-25","i":"High","t":"Zeo","v":105.5,"e":1.0},{"d":"2015-04-15","i":"High","t":"Zeo","v":106.5,"e":1.0},{"d":"2015-04-22","i":"High","t":"Zeo","v":107.5,"e":1.0},
{"d":"2013-12-03","i":"High","t":"Com","v":116.3,"e":1.0},{"d":"2014-01-07","i":"High","t":"Com","v":114.2,"e":1.0},{"d":"2014-01-22","i":"High","t":"Com","v":117.5,"e":1.0},{"d":"2014-01-29","i":"High","t":"Com","v":117.0,"e":1.0},{"d":"2014-02-05","i":"High","t":"Com","v":114.2,"e":1.0},{"d":"2014-02-12","i":"High","t":"Com","v":111.5,"e":1.0},{"d":"2014-02-19","i":"High","t":"Com","v":110.5,"e":1.0},{"d":"2014-02-26","i":"High","t":"Com","v":110.5,"e":1.0},{"d":"2014-03-05","i":"High","t":"Com","v":109.5,"e":1.0},{"d":"2014-03-12","i":"High","t":"Com","v":108.0,"e":1.0},{"d":"2014-03-19","i":"High","t":"Com","v":108.5,"e":1.0},{"d":"2014-04-02","i":"High","t":"Com","v":112.5,"e":1.0},{"d":"2014-04-16","i":"High","t":"Com","v":111.0,"e":2.6},{"d":"2014-04-23","i":"High","t":"Com","v":114.2,"e":1.0},{"d":"2014-05-07","i":"High","t":"Com","v":115.2,"e":1.0},{"d":"2014-05-20","i":"High","t":"Com","v":118.0,"e":1.0},{"d":"2014-06-18","i":"High","t":"Com","v":116.1,"e":1.0},{"d":"2014-07-17","i":"High","t":"Com","v":109.2,"e":1.0},{"d":"2014-08-26","i":"High","t":"Com","v":110.0,"e":1.0},{"d":"2014-09-25","i":"High","t":"Com","v":113.8,"e":1.0},{"d":"2014-10-10","i":"High","t":"Com","v":114.0,"e":1.0},{"d":"2014-10-17","i":"High","t":"Com","v":116.0,"e":1.0},{"d":"2014-11-12","i":"High","t":"Com","v":115.0,"e":1.0},{"d":"2014-11-28","i":"High","t":"Com","v":115.0,"e":1.0},{"d":"2014-12-10","i":"High","t":"Com","v":112.2,"e":1.0},{"d":"2014-12-17","i":"High","t":"Com","v":111.7,"e":1.0},{"d":"2015-01-07","i":"High","t":"Com","v":111.0,"e":1.2},{"d":"2015-01-21","i":"High","t":"Com","v":109.9,"e":1.0},{"d":"2015-02-04","i":"High","t":"Com","v":110.5,"e":1.0},{"d":"2015-02-11","i":"High","t":"Com","v":110.8,"e":1.0},{"d":"2015-02-25","i":"High","t":"Com","v":109.0,"e":1.0},{"d":"2015-03-11","i":"High","t":"Com","v":108.8,"e":1.0},{"d":"2015-03-25","i":"High","t":"Com","v":107.5,"e":1.0},{"d":"2015-04-15","i":"High","t":"Com","v":110.0,"e":1.0},{"d":"2015-04-22","i":"High","t":"Com","v":112.9,"e":1.0},
{"d":"2013-12-03","i":"High","t":"Ben+Com","v":114.2,"e":1.0},{"d":"2014-01-07","i":"High","t":"Ben+Com","v":114.0,"e":1.0},{"d":"2014-01-22","i":"High","t":"Ben+Com","v":116.8,"e":1.0},{"d":"2014-01-29","i":"High","t":"Ben+Com","v":117.0,"e":1.0},{"d":"2014-02-05","i":"High","t":"Ben+Com","v":113.5,"e":1.0},{"d":"2014-02-12","i":"High","t":"Ben+Com","v":110.5,"e":1.2},{"d":"2014-02-19","i":"High","t":"Ben+Com","v":110.0,"e":1.0},{"d":"2014-02-26","i":"High","t":"Ben+Com","v":110.0,"e":1.0},{"d":"2014-03-05","i":"High","t":"Ben+Com","v":108.5,"e":1.0},{"d":"2014-03-12","i":"High","t":"Ben+Com","v":106.8,"e":1.0},{"d":"2014-03-19","i":"High","t":"Ben+Com","v":109.0,"e":1.0},{"d":"2014-04-02","i":"High","t":"Ben+Com","v":113.0,"e":1.0},{"d":"2014-04-16","i":"High","t":"Ben+Com","v":114.5,"e":1.0},{"d":"2014-04-23","i":"High","t":"Ben+Com","v":114.8,"e":1.0},{"d":"2014-05-07","i":"High","t":"Ben+Com","v":116.6,"e":1.0},{"d":"2014-05-20","i":"High","t":"Ben+Com","v":118.3,"e":1.0},{"d":"2014-06-18","i":"High","t":"Ben+Com","v":114.3,"e":1.0},{"d":"2014-07-17","i":"High","t":"Ben+Com","v":107.5,"e":1.0},{"d":"2014-08-26","i":"High","t":"Ben+Com","v":109.5,"e":1.0},{"d":"2014-09-25","i":"High","t":"Ben+Com","v":113.3,"e":1.0},{"d":"2014-10-10","i":"High","t":"Ben+Com","v":114.0,"e":1.0},{"d":"2014-10-17","i":"High","t":"Ben+Com","v":116.2,"e":1.0},{"d":"2014-11-12","i":"High","t":"Ben+Com","v":115.5,"e":1.0},{"d":"2014-11-28","i":"High","t":"Ben+Com","v":114.3,"e":1.0},{"d":"2014-12-10","i":"High","t":"Ben+Com","v":112.0,"e":1.0},{"d":"2014-12-17","i":"High","t":"Ben+Com","v":110.5,"e":1.0},{"d":"2015-01-07","i":"High","t":"Ben+Com","v":110.0,"e":1.0},{"d":"2015-01-21","i":"High","t":"Ben+Com","v":109.0,"e":1.0},{"d":"2015-02-04","i":"High","t":"Ben+Com","v":110.8,"e":1.0},{"d":"2015-02-11","i":"High","t":"Ben+Com","v":111.0,"e":1.0},{"d":"2015-02-25","i":"High","t":"Ben+Com","v":109.5,"e":1.0},{"d":"2015-03-11","i":"High","t":"Ben+Com","v":109.5,"e":1.0},{"d":"2015-03-25","i":"High","t":"Ben+Com","v":108.0,"e":1.0},{"d":"2015-04-15","i":"High","t":"Ben+Com","v":109.5,"e":1.0},{"d":"2015-04-22","i":"High","t":"Ben+Com","v":111.0,"e":1.0},
{"d":"2013-12-03","i":"High","t":"Kao+Com","v":114.3,"e":1.0},{"d":"2014-01-07","i":"High","t":"Kao+Com","v":114.3,"e":1.0},{"d":"2014-01-22","i":"High","t":"Kao+Com","v":117.0,"e":1.0},{"d":"2014-01-29","i":"High","t":"Kao+Com","v":117.2,"e":1.0},{"d":"2014-02-05","i":"High","t":"Kao+Com","v":113.0,"e":1.0},{"d":"2014-02-12","i":"High","t":"Kao+Com","v":111.0,"e":1.0},{"d":"2014-02-19","i":"High","t":"Kao+Com","v":110.5,"e":1.0},{"d":"2014-02-26","i":"High","t":"Kao+Com","v":110.0,"e":1.0},{"d":"2014-03-05","i":"High","t":"Kao+Com","v":108.0,"e":1.0},{"d":"2014-03-12","i":"High","t":"Kao+Com","v":106.5,"e":1.5},{"d":"2014-03-19","i":"High","t":"Kao+Com","v":109.5,"e":1.0},{"d":"2014-04-02","i":"High","t":"Kao+Com","v":112.8,"e":1.0},{"d":"2014-04-16","i":"High","t":"Kao+Com","v":114.2,"e":1.0},{"d":"2014-04-23","i":"High","t":"Kao+Com","v":114.5,"e":1.0},{"d":"2014-05-07","i":"High","t":"Kao+Com","v":115.8,"e":1.0},{"d":"2014-05-20","i":"High","t":"Kao+Com","v":118.9,"e":1.0},{"d":"2014-06-18","i":"High","t":"Kao+Com","v":114.5,"e":1.0},{"d":"2014-07-17","i":"High","t":"Kao+Com","v":107.8,"e":1.0},{"d":"2014-08-26","i":"High","t":"Kao+Com","v":110.1,"e":1.0},{"d":"2014-09-25","i":"High","t":"Kao+Com","v":113.8,"e":1.0},{"d":"2014-10-10","i":"High","t":"Kao+Com","v":114.5,"e":1.0},{"d":"2014-10-17","i":"High","t":"Kao+Com","v":116.4,"e":1.0},{"d":"2014-11-12","i":"High","t":"Kao+Com","v":115.9,"e":1.0},{"d":"2014-11-28","i":"High","t":"Kao+Com","v":116.6,"e":1.0},{"d":"2014-12-10","i":"High","t":"Kao+Com","v":112.9,"e":1.0},{"d":"2014-12-17","i":"High","t":"Kao+Com","v":111.2,"e":1.0},{"d":"2015-01-07","i":"High","t":"Kao+Com","v":110.5,"e":1.0},{"d":"2015-01-21","i":"High","t":"Kao+Com","v":109.5,"e":1.0},{"d":"2015-02-04","i":"High","t":"Kao+Com","v":110.3,"e":1.0},{"d":"2015-02-11","i":"High","t":"Kao+Com","v":112.0,"e":1.3},{"d":"2015-02-25","i":"High","t":"Kao+Com","v":110.3,"e":1.0},{"d":"2015-03-11","i":"High","t":"Kao+Com","v":109.5,"e":1.0},{"d":"2015-03-25","i":"High","t":"Kao+Com","v":109.0,"e":1.0},{"d":"2015-04-15","i":"High","t":"Kao+Com","v":110.3,"e":1.0},{"d":"2015-04-22","i":"High","t":"Kao+Com","v":111.5,"e":1.0},
{"d":"2013-12-03","i":"High","t":"Rgrit+Com","v":114.6,"e":1.0},{"d":"2014-01-07","i":"High","t":"Rgrit+Com","v":114.6,"e":1.0},{"d":"2014-01-22","i":"High","t":"Rgrit+Com","v":117.2,"e":1.0},{"d":"2014-01-29","i":"High","t":"Rgrit+Com","v":117.5,"e":1.0},{"d":"2014-02-05","i":"High","t":"Rgrit+Com","v":114.5,"e":1.0},{"d":"2014-02-12","i":"High","t":"Rgrit+Com","v":111.5,"e":1.0},{"d":"2014-02-19","i":"High","t":"Rgrit+Com","v":110.5,"e":1.0},{"d":"2014-02-26","i":"High","t":"Rgrit+Com","v":110.5,"e":1.0},{"d":"2014-03-05","i":"High","t":"Rgrit+Com","v":109.5,"e":1.0},{"d":"2014-03-12","i":"High","t":"Rgrit+Com","v":108.0,"e":1.0},{"d":"2014-03-19","i":"High","t":"Rgrit+Com","v":109.0,"e":1.0},{"d":"2014-04-02","i":"High","t":"Rgrit+Com","v":112.5,"e":1.0},{"d":"2014-04-16","i":"High","t":"Rgrit+Com","v":113.5,"e":1.0},{"d":"2014-04-23","i":"High","t":"Rgrit+Com","v":113.8,"e":1.0},{"d":"2014-05-07","i":"High","t":"Rgrit+Com","v":114.8,"e":1.0},{"d":"2014-05-20","i":"High","t":"Rgrit+Com","v":117.5,"e":1.0},{"d":"2014-06-18","i":"High","t":"Rgrit+Com","v":114.8,"e":1.0},{"d":"2014-07-17","i":"High","t":"Rgrit+Com","v":108.5,"e":1.0},{"d":"2014-08-26","i":"High","t":"Rgrit+Com","v":108.5,"e":1.0},{"d":"2014-09-25","i":"High","t":"Rgrit+Com","v":112.5,"e":1.0},{"d":"2014-10-10","i":"High","t":"Rgrit+Com","v":113.0,"e":1.0},{"d":"2014-10-17","i":"High","t":"Rgrit+Com","v":115.5,"e":1.0},{"d":"2014-11-12","i":"High","t":"Rgrit+Com","v":113.5,"e":1.0},{"d":"2014-11-28","i":"High","t":"Rgrit+Com","v":115.5,"e":1.0},{"d":"2014-12-10","i":"High","t":"Rgrit+Com","v":111.8,"e":1.0},{"d":"2014-12-17","i":"High","t":"Rgrit+Com","v":110.8,"e":1.0},{"d":"2015-01-07","i":"High","t":"Rgrit+Com","v":110.6,"e":1.0},{"d":"2015-01-21","i":"High","t":"Rgrit+Com","v":109.0,"e":1.0},{"d":"2015-02-04","i":"High","t":"Rgrit+Com","v":110.5,"e":1.0},{"d":"2015-02-11","i":"High","t":"Rgrit+Com","v":111.0,"e":1.0},{"d":"2015-02-25","i":"High","t":"Rgrit+Com","v":109.0,"e":1.0},{"d":"2015-03-11","i":"High","t":"Rgrit+Com","v":109.9,"e":1.0},{"d":"2015-03-25","i":"High","t":"Rgrit+Com","v":107.8,"e":1.0},{"d":"2015-04-15","i":"High","t":"Rgrit+Com","v":109.0,"e":1.0},{"d":"2015-04-22","i":"High","t":"Rgrit+Com","v":110.1,"e":1.0},
{"d":"2013-12-03","i":"High","t":"Spo+Com","v":115.0,"e":1.0},{"d":"2014-01-07","i":"High","t":"Spo+Com","v":115.0,"e":1.0},{"d":"2014-01-22","i":"High","t":"Spo+Com","v":117.3,"e":1.0},{"d":"2014-01-29","i":"High","t":"Spo+Com","v":117.8,"e":1.0},{"d":"2014-02-05","i":"High","t":"Spo+Com","v":111.5,"e":3.0},{"d":"2014-02-12","i":"High","t":"Spo+Com","v":109.9,"e":1.2},{"d":"2014-02-19","i":"High","t":"Spo+Com","v":107.3,"e":2.2},{"d":"2014-02-26","i":"High","t":"Spo+Com","v":108.7,"e":1.5},{"d":"2014-03-05","i":"High","t":"Spo+Com","v":107.1,"e":1.2},{"d":"2014-03-12","i":"High","t":"Spo+Com","v":106.2,"e":1.5},{"d":"2014-03-19","i":"High","t":"Spo+Com","v":109.5,"e":1.0},{"d":"2014-04-02","i":"High","t":"Spo+Com","v":112.8,"e":1.0},{"d":"2014-04-16","i":"High","t":"Spo+Com","v":112.5,"e":1.0},{"d":"2014-04-23","i":"High","t":"Spo+Com","v":114.0,"e":1.0},{"d":"2014-05-07","i":"High","t":"Spo+Com","v":115.0,"e":1.0},{"d":"2014-05-20","i":"High","t":"Spo+Com","v":118.0,"e":1.0},{"d":"2014-06-18","i":"High","t":"Spo+Com","v":113.8,"e":1.0},{"d":"2014-07-17","i":"High","t":"Spo+Com","v":106.9,"e":1.0},{"d":"2014-08-26","i":"High","t":"Spo+Com","v":108.2,"e":1.0},{"d":"2014-09-25","i":"High","t":"Spo+Com","v":113.0,"e":1.0},{"d":"2014-10-10","i":"High","t":"Spo+Com","v":113.5,"e":1.0},{"d":"2014-10-17","i":"High","t":"Spo+Com","v":116.0,"e":1.0},{"d":"2014-11-12","i":"High","t":"Spo+Com","v":113.2,"e":1.0},{"d":"2014-11-28","i":"High","t":"Spo+Com","v":114.8,"e":1.0},{"d":"2014-12-10","i":"High","t":"Spo+Com","v":111.5,"e":1.0},{"d":"2014-12-17","i":"High","t":"Spo+Com","v":110.0,"e":1.0},{"d":"2015-01-07","i":"High","t":"Spo+Com","v":107.1,"e":1.2},{"d":"2015-01-21","i":"High","t":"Spo+Com","v":106.4,"e":1.2},{"d":"2015-02-04","i":"High","t":"Spo+Com","v":107.8,"e":1.4},{"d":"2015-02-11","i":"High","t":"Spo+Com","v":109.5,"e":1.0},{"d":"2015-02-25","i":"High","t":"Spo+Com","v":109.0,"e":1.0},{"d":"2015-03-11","i":"High","t":"Spo+Com","v":108.5,"e":1.0},{"d":"2015-03-25","i":"High","t":"Spo+Com","v":107.5,"e":1.0},{"d":"2015-04-15","i":"High","t":"Spo+Com","v":108.5,"e":1.0},{"d":"2015-04-22","i":"High","t":"Spo+Com","v":110.5,"e":1.0},
{"d":"2013-12-03","i":"High","t":"Zeo+Com","v":114.8,"e":1.0},{"d":"2014-01-07","i":"High","t":"Zeo+Com","v":115.0,"e":1.0},{"d":"2014-01-22","i":"High","t":"Zeo+Com","v":117.5,"e":1.0},{"d":"2014-01-29","i":"High","t":"Zeo+Com","v":117.8,"e":1.0},{"d":"2014-02-05","i":"High","t":"Zeo+Com","v":115.0,"e":1.0},{"d":"2014-02-12","i":"High","t":"Zeo+Com","v":112.0,"e":1.0},{"d":"2014-02-19","i":"High","t":"Zeo+Com","v":111.0,"e":1.0},{"d":"2014-02-26","i":"High","t":"Zeo+Com","v":111.0,"e":1.0},{"d":"2014-03-05","i":"High","t":"Zeo+Com","v":109.5,"e":1.0},{"d":"2014-03-12","i":"High","t":"Zeo+Com","v":108.2,"e":1.0},{"d":"2014-03-19","i":"High","t":"Zeo+Com","v":110.5,"e":1.0},{"d":"2014-04-02","i":"High","t":"Zeo+Com","v":113.2,"e":1.0},{"d":"2014-04-16","i":"High","t":"Zeo+Com","v":114.0,"e":1.0},{"d":"2014-04-23","i":"High","t":"Zeo+Com","v":114.2,"e":1.0},{"d":"2014-05-07","i":"High","t":"Zeo+Com","v":115.5,"e":1.0},{"d":"2014-05-20","i":"High","t":"Zeo+Com","v":118.3,"e":1.0},{"d":"2014-06-18","i":"High","t":"Zeo+Com","v":115.7,"e":1.2},{"d":"2014-07-17","i":"High","t":"Zeo+Com","v":107.2,"e":1.0},{"d":"2014-08-26","i":"High","t":"Zeo+Com","v":108.7,"e":1.0},{"d":"2014-09-25","i":"High","t":"Zeo+Com","v":113.4,"e":1.0},{"d":"2014-10-10","i":"High","t":"Zeo+Com","v":113.5,"e":1.0},{"d":"2014-10-17","i":"High","t":"Zeo+Com","v":116.2,"e":1.0},{"d":"2014-11-12","i":"High","t":"Zeo+Com","v":113.8,"e":1.0},{"d":"2014-11-28","i":"High","t":"Zeo+Com","v":115.3,"e":1.0},{"d":"2014-12-10","i":"High","t":"Zeo+Com","v":112.0,"e":1.0},{"d":"2014-12-17","i":"High","t":"Zeo+Com","v":110.5,"e":1.0},{"d":"2015-01-07","i":"High","t":"Zeo+Com","v":110.3,"e":1.0},{"d":"2015-01-21","i":"High","t":"Zeo+Com","v":108.5,"e":1.0},{"d":"2015-02-04","i":"High","t":"Zeo+Com","v":110.8,"e":1.0},{"d":"2015-02-11","i":"High","t":"Zeo+Com","v":111.2,"e":1.0},{"d":"2015-02-25","i":"High","t":"Zeo+Com","v":109.5,"e":1.0},{"d":"2015-03-11","i":"High","t":"Zeo+Com","v":109.8,"e":1.0},{"d":"2015-03-25","i":"High","t":"Zeo+Com","v":108.0,"e":1.0},{"d":"2015-04-15","i":"High","t":"Zeo+Com","v":109.2,"e":1.0},{"d":"2015-04-22","i":"High","t":"Zeo+Com","v":110.8,"e":1.0}
  ]
},
"concat": [
 {
  "width": 1065, "height": 251,
  "view": {"fill": "#E5E5E5", "stroke": null},
  "layer": [
   {"data": {"name": "minx"}, "mark": {"type": "rule", "color": "#F2F2F2", "strokeWidth": 0.7},
    "encoding": {"x": {"field": "d", "type": "temporal", "title": null, "scale": {"type": "utc", "domain": [{"year": 2013, "month": 11, "date": 7, "hours": 12, "utc": true}, {"year": 2015, "month": 5, "date": 25, "hours": 19, "utc": true}]}, "axis": {"labels": false, "ticks": false, "title": null, "tickCount": {"interval": "month", "step": 2}}}}},
   {"data": {"name": "miny"}, "mark": {"type": "rule", "color": "#F2F2F2", "strokeWidth": 0.7},
    "encoding": {"y": {"field": "v", "type": "quantitative", "title": "Turf colour (Hue angle)", "scale": {"domain": [85.1, 120.1], "nice": false, "zero": false}, "axis": {"values": [90, 100, 110, 120], "title": "Turf colour (Hue angle)", "titleX": -56, "titleY": 256.5, "titleAngle": -90, "titleBaseline": "middle", "titleAlign": "center"}}}},
   {"data": {"name": "vl"}, "mark": {"type": "rule", "color": "#000000", "strokeWidth": 4, "strokeDash": [4, 9.3]},
    "encoding": {"x": {"field": "d", "type": "temporal", "title": null}}},
   {"data": {"name": "m"}, "transform": [{"filter": "datum.i == 'Low' && datum.t != 'Con'"}],
    "mark": {"type": "errorbar", "thickness": 2},
    "encoding": {"x": {"field": "d", "type": "temporal", "title": null}, "y": {"field": "v", "type": "quantitative", "title": "Turf colour (Hue angle)"}, "yError": {"field": "e"},
     "color": {"field": "t", "type": "nominal", "title": ["Amendment", "Treatment"], "scale": {"domain": ["Con","Ben","Kao","Rgrit","Spo","Zeo","Com","Ben+Com","Kao+Com","Rgrit+Com","Spo+Com","Zeo+Com"], "range": ["#000000","#D2691E","#8B4513","#FF0000","#DA70D6","#FFA500","#006400","#32CD32","#00FF00","#1E90FF","#40E0D0","#00BFFF"]}}}},
   {"data": {"name": "m"}, "transform": [{"filter": "datum.i == 'Low' && datum.t != 'Con'"}],
    "mark": {"type": "line", "strokeWidth": 2.3, "point": {"filled": true, "size": 36}},
    "encoding": {"x": {"field": "d", "type": "temporal", "title": null}, "y": {"field": "v", "type": "quantitative", "title": "Turf colour (Hue angle)"},
     "color": {"field": "t", "type": "nominal", "title": ["Amendment", "Treatment"]}}},
   {"data": {"name": "m"}, "transform": [{"filter": "datum.i == 'Low' && datum.t == 'Con'"}],
    "mark": {"type": "errorbar", "thickness": 2.5},
    "encoding": {"x": {"field": "d", "type": "temporal", "title": null}, "y": {"field": "v", "type": "quantitative", "title": "Turf colour (Hue angle)"}, "yError": {"field": "e"},
     "color": {"field": "t", "type": "nominal", "title": ["Amendment", "Treatment"]}}},
   {"data": {"name": "m"}, "transform": [{"filter": "datum.i == 'Low' && datum.t == 'Con'"}],
    "mark": {"type": "line", "strokeWidth": 4, "point": {"filled": true, "size": 55}},
    "encoding": {"x": {"field": "d", "type": "temporal", "title": null}, "y": {"field": "v", "type": "quantitative", "title": "Turf colour (Hue angle)"},
     "color": {"field": "t", "type": "nominal", "title": ["Amendment", "Treatment"]}}}
  ]
 },
 {
  "width": 34, "height": 251,
  "view": {"fill": "#CCCCCC", "stroke": null},
  "data": {"values": [{"s": "Low irrigation"}]},
  "mark": {"type": "text", "angle": 90, "fontSize": 20, "color": "#1A1A1A", "font": "Liberation Sans"},
  "encoding": {"text": {"field": "s", "type": "nominal"}}
 },
 {
  "width": 1065, "height": 251,
  "view": {"fill": "#E5E5E5", "stroke": null},
  "layer": [
   {"data": {"name": "minx"}, "mark": {"type": "rule", "color": "#F2F2F2", "strokeWidth": 0.7},
    "encoding": {"x": {"field": "d", "type": "temporal", "title": "Date", "scale": {"type": "utc", "domain": [{"year": 2013, "month": 11, "date": 7, "hours": 12, "utc": true}, {"year": 2015, "month": 5, "date": 25, "hours": 19, "utc": true}]}, "axis": {"format": "%b%Y", "labelAngle": 90, "labelPadding": 7, "title": "Date", "titlePadding": 8, "tickCount": {"interval": "month", "step": 2}}}}},
   {"data": {"name": "miny"}, "mark": {"type": "rule", "color": "#F2F2F2", "strokeWidth": 0.7},
    "encoding": {"y": {"field": "v", "type": "quantitative", "title": null, "scale": {"domain": [85.1, 120.1], "nice": false, "zero": false}, "axis": {"values": [90, 100, 110, 120], "title": null}}}},
   {"data": {"name": "vl"}, "mark": {"type": "rule", "color": "#000000", "strokeWidth": 4, "strokeDash": [4, 9.3]},
    "encoding": {"x": {"field": "d", "type": "temporal", "title": "Date"}}},
   {"data": {"name": "m"}, "transform": [{"filter": "datum.i == 'High' && datum.t != 'Con'"}],
    "mark": {"type": "errorbar", "thickness": 2},
    "encoding": {"x": {"field": "d", "type": "temporal", "title": "Date"}, "y": {"field": "v", "type": "quantitative", "title": null}, "yError": {"field": "e"},
     "color": {"field": "t", "type": "nominal", "title": ["Amendment", "Treatment"]}}},
   {"data": {"name": "m"}, "transform": [{"filter": "datum.i == 'High' && datum.t != 'Con'"}],
    "mark": {"type": "line", "strokeWidth": 2.3, "point": {"filled": true, "size": 36}},
    "encoding": {"x": {"field": "d", "type": "temporal", "title": "Date"}, "y": {"field": "v", "type": "quantitative", "title": null},
     "color": {"field": "t", "type": "nominal", "title": ["Amendment", "Treatment"]}}},
   {"data": {"name": "m"}, "transform": [{"filter": "datum.i == 'High' && datum.t == 'Con'"}],
    "mark": {"type": "errorbar", "thickness": 2.5},
    "encoding": {"x": {"field": "d", "type": "temporal", "title": "Date"}, "y": {"field": "v", "type": "quantitative", "title": null}, "yError": {"field": "e"},
     "color": {"field": "t", "type": "nominal", "title": ["Amendment", "Treatment"]}}},
   {"data": {"name": "m"}, "transform": [{"filter": "datum.i == 'High' && datum.t == 'Con'"}],
    "mark": {"type": "line", "strokeWidth": 4, "point": {"filled": true, "size": 55}},
    "encoding": {"x": {"field": "d", "type": "temporal", "title": "Date"}, "y": {"field": "v", "type": "quantitative", "title": null},
     "color": {"field": "t", "type": "nominal", "title": ["Amendment", "Treatment"]}}},
   {"data": {"name": "lab"}, "mark": {"type": "text", "fontSize": 62, "font": "DejaVu Sans", "color": "#000000", "baseline": "middle", "align": "center"},
    "encoding": {"x": {"field": "d", "type": "temporal", "title": "Date"}, "y": {"field": "v", "type": "quantitative", "title": null}, "text": {"field": "s", "type": "nominal"}}}
  ]
 },
 {
  "width": 34, "height": 251,
  "view": {"fill": "#CCCCCC", "stroke": null},
  "data": {"values": [{"s": "High irrigation"}]},
  "mark": {"type": "text", "angle": 90, "fontSize": 20, "color": "#1A1A1A", "font": "Liberation Sans"},
  "encoding": {"text": {"field": "s", "type": "nominal"}}
 }
]
}
